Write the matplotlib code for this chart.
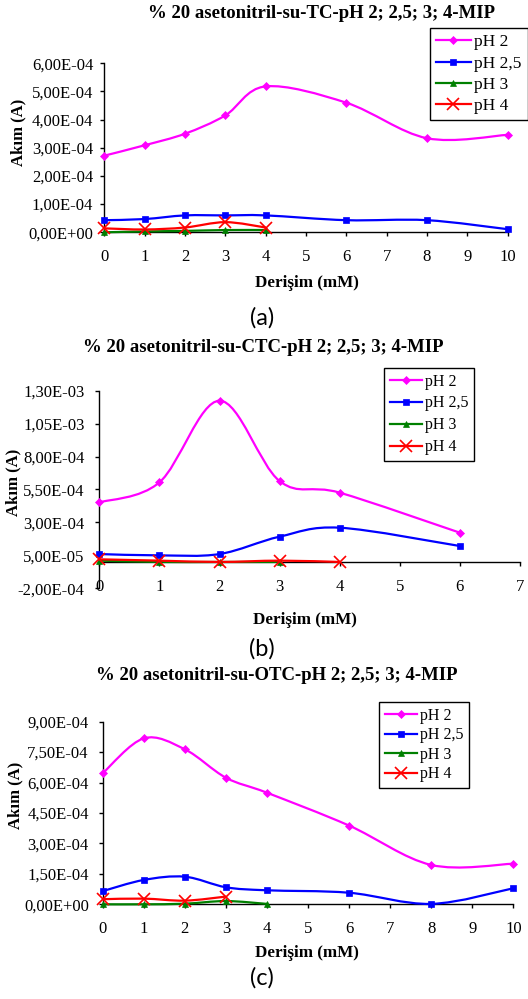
import numpy as np
import matplotlib
matplotlib.use('Agg')
import matplotlib.pyplot as plt
from matplotlib.path import Path
from matplotlib.patches import PathPatch
from matplotlib.lines import Line2D
from matplotlib.ticker import FuncFormatter, FixedLocator

series_labels = ['pH 2', 'pH 2,5', 'pH 3', 'pH 4']

# (a) TC
tc_x = [0, 1, 2, 3, 4, 6, 8, 10]
tc_ph2 = [2.72e-4, 3.09e-4, 3.50e-4, 4.15e-4, 5.18e-4, 4.60e-4, 3.34e-4, 3.46e-4]
tc_ph25 = [4.3e-5, 4.7e-5, 6.0e-5, 6.0e-5, 6.0e-5, 4.3e-5, 4.3e-5, 1.1e-5]
tc_x_low = [0, 1, 2, 3, 4]
tc_ph3 = [0.0, 3e-6, 5e-6, 8e-6, 8e-6]
tc_ph4 = [1.4e-5, 1.0e-5, 1.7e-5, 3.6e-5, 1.7e-5]

# (b) CTC
ctc_x = [0, 1, 2, 3, 4, 6]
ctc_ph2 = [4.52e-4, 6.04e-4, 1.224e-3, 6.14e-4, 5.26e-4, 2.22e-4]
ctc_ph25 = [6.0e-5, 5.0e-5, 6.0e-5, 1.92e-4, 2.60e-4, 1.21e-4]
ctc_x_ph3 = [0, 1, 2, 3]
ctc_ph3 = [1.0e-5, 0.0, 0.0, 0.0]
ctc_x_ph4 = [0, 1, 2, 3, 4]
ctc_ph4 = [2.0e-5, 1.0e-5, 0.0, 1.0e-5, 0.0]

# (c) OTC
otc_x = [0, 1, 2, 3, 4, 6, 8, 10]
otc_ph2 = [6.46e-4, 8.18e-4, 7.64e-4, 6.24e-4, 5.50e-4, 3.88e-4, 1.94e-4, 2.00e-4]
otc_ph25 = [6.5e-5, 1.20e-4, 1.36e-4, 8.4e-5, 6.9e-5, 5.7e-5, 2e-6, 7.9e-5]
otc_x_ph3 = [0, 1, 2, 3, 4]
otc_ph3 = [0.0, 0.0, 3e-6, 1.6e-5, 2e-6]
otc_x_ph4 = [0, 1, 2, 3]
otc_ph4 = [2.5e-5, 2.8e-5, 1.8e-5, 3.8e-5]

# axis ticks
tc_yticks = [0, 1e-4, 2e-4, 3e-4, 4e-4, 5e-4, 6e-4]
ctc_yticks = [-2e-4, 5e-5, 3e-4, 5.5e-4, 8e-4, 1.05e-3, 1.3e-3]
otc_yticks = [0, 1.5e-4, 3e-4, 4.5e-4, 6e-4, 7.5e-4, 9e-4]
tc_xticks = list(range(0, 11))
ctc_xticks = list(range(0, 8))
otc_xticks = list(range(0, 11))

titles = ['% 20 asetonitril-su-TC-pH 2; 2,5; 3; 4-MIP',
          '% 20 asetonitril-su-CTC-pH 2; 2,5; 3; 4-MIP',
          '% 20 asetonitril-su-OTC-pH 2; 2,5; 3; 4-MIP']
panel_tags = ['(a)', '(b)', '(c)']
xlabel = 'Derişim (mM)'
ylabel = 'Akım (A)'

colors = ['#FF00FF', '#0000FF', '#008000', '#FF0000']
markers = ['D', 's', '^', 'x']
msizes = [4.5, 5, 5, 8]

SERIF = 'Liberation Serif'
SANS = 'Lato'
W, H = 528, 999


def smooth_path(x, y):
    x = np.asarray(x, float)
    y = np.asarray(y, float)
    n = len(x)
    verts = [(x[0], y[0])]
    codes = [Path.MOVETO]
    for i in range(n - 1):
        p0 = np.array([x[max(i - 1, 0)], y[max(i - 1, 0)]])
        p1 = np.array([x[i], y[i]])
        p2 = np.array([x[i + 1], y[i + 1]])
        p3 = np.array([x[min(i + 2, n - 1)], y[min(i + 2, n - 1)]])
        c1 = p1 + (p2 - p0) / 6.0
        c2 = p2 - (p3 - p1) / 6.0
        verts += [tuple(c1), tuple(c2), tuple(p2)]
        codes += [Path.CURVE4] * 3
    return Path(verts, codes)


def fmt(v, pos):
    s = '%.2E' % v
    if abs(v) < 1e-12:
        s = '0.00E+00'
    return s.replace('.', ',')


fig = plt.figure(figsize=(W / 100, H / 100), dpi=100)
fig.patch.set_facecolor('white')


def px_axes(left, top, right, bottom):
    return fig.add_axes([left / W, 1 - bottom / H, (right - left) / W, (bottom - top) / H])


def draw_panel(ax, series, xlim, ylim, yticks, xticks, leg_box, leg_size, leg_space,
               ypad, title_xy, xlab_xy, ylab_xy, tag_xy, title):
    for (xs, ys), c, m, ms in zip(series, colors, markers, msizes):
        patch = PathPatch(smooth_path(xs, ys), facecolor='none', edgecolor=c, lw=1.6,
                          zorder=3, clip_on=False)
        ax.add_patch(patch)
        ax.plot(xs, ys, linestyle='none', marker=m, color=c, markersize=ms,
                markeredgewidth=1.2 if m == 'x' else 0.5, zorder=4, clip_on=False)
    ax.set_xlim(*xlim)
    ax.set_ylim(*ylim)
    ax.yaxis.set_major_locator(FixedLocator(yticks))
    ax.yaxis.set_major_formatter(FuncFormatter(fmt))
    ax.set_xticks(xticks)
    ax.spines['top'].set_visible(False)
    ax.spines['right'].set_visible(False)
    ax.spines['bottom'].set_position(('data', 0))
    for s in ['left', 'bottom']:
        ax.spines[s].set_linewidth(1.0)
    ax.tick_params(axis='y', direction='out', length=3, width=1, pad=ypad, labelsize=12)
    ax.tick_params(axis='x', direction='out', length=3, width=1, pad=9, labelsize=12)
    for lab in ax.get_xticklabels() + ax.get_yticklabels():
        lab.set_fontfamily(SERIF)
    handles = [Line2D([], [], color=c, marker=m, markersize=ms, lw=1.6,
                      markeredgewidth=1.2 if m == 'x' else 0.5)
               for c, m, ms in zip(colors, markers, msizes)]
    l, t, r, b = leg_box
    leg = ax.legend(handles, series_labels, loc='upper left',
                    bbox_to_anchor=(l / W, 1 - t / H),
                    bbox_transform=fig.transFigure,
                    prop={'family': SERIF, 'size': leg_size}, frameon=True, fancybox=False,
                    edgecolor='black', framealpha=1, borderpad=0.35, labelspacing=leg_space,
                    handlelength=2.0, handletextpad=0.2, borderaxespad=0.0)
    leg.get_frame().set_linewidth(1.0)
    fig.text(title_xy[0] / W, 1 - title_xy[1] / H, title, ha='center', va='center',
             family=SERIF, weight='bold', fontsize=13.5)
    fig.text(xlab_xy[0] / W, 1 - xlab_xy[1] / H, xlabel, ha='center', va='center',
             family=SERIF, weight='bold', fontsize=12.3)
    fig.text(ylab_xy[0] / W, 1 - ylab_xy[1] / H, ylabel, ha='center', va='center',
             family=SERIF, weight='bold', fontsize=12, rotation=90)
    fig.text(tag_xy[0] / W, 1 - tag_xy[1] / H, tag_xy[2], ha='center', va='center',
             family=SANS, fontsize=17)


ax1 = px_axes(104.3, 63.3, 507.7, 232.3)
draw_panel(ax1,
           [(tc_x, tc_ph2), (tc_x, tc_ph25), (tc_x_low, tc_ph3), (tc_x_low, tc_ph4)],
           (0, 10), (0, 6e-4), tc_yticks, tc_xticks,
           (430, 28, 521, 116), 12.5, 0.3, 5, (322, 14), (307, 283), (18, 132),
           (262, 318, panel_tags[0]), titles[0])

ax2 = px_axes(99.3, 390.7, 520, 588.3)
draw_panel(ax2,
           [(ctc_x, ctc_ph2), (ctc_x, ctc_ph25), (ctc_x_ph3, ctc_ph3), (ctc_x_ph4, ctc_ph4)],
           (0, 7), (-2e-4, 1.3e-3), ctc_yticks, ctc_xticks,
           (384, 368, 473, 458), 11.5, 0.37, 7.5, (263, 348), (305, 620), (13, 482),
           (262, 649, panel_tags[1]), titles[1])

ax3 = px_axes(102.7, 721.7, 513.3, 904.3)
draw_panel(ax3,
           [(otc_x, otc_ph2), (otc_x, otc_ph25), (otc_x_ph3, otc_ph3), (otc_x_ph4, otc_ph4)],
           (0, 10), (0, 9e-4), otc_yticks, otc_xticks,
           (379, 702, 467, 787), 11.5, 0.22, 7, (277, 676), (307, 953), (15, 795),
           (262, 978, panel_tags[2]), titles[2])

fig.savefig('out.png', dpi=100, facecolor='white')
